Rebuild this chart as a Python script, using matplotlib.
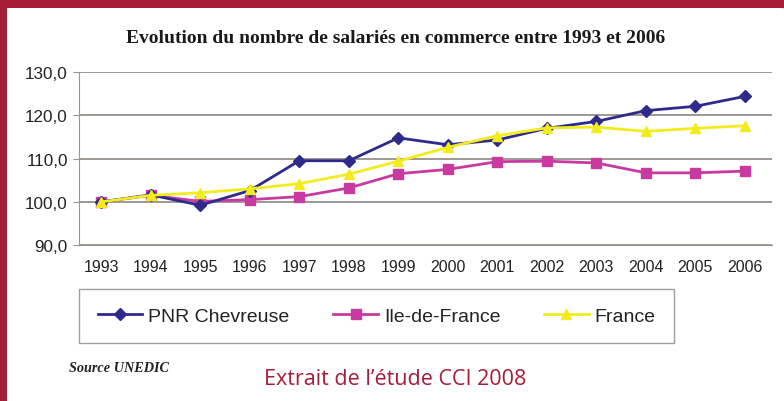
import matplotlib.pyplot as plt
from matplotlib.patches import FancyBboxPatch, Rectangle

years = ['1993', '1994', '1995', '1996', '1997', '1998', '1999',
         '2000', '2001', '2002', '2003', '2004', '2005', '2006']
pnr = [100.0, 101.6, 99.2, 102.6, 109.5, 109.5, 114.8,
       113.2, 114.3, 117.0, 118.6, 121.1, 122.1, 124.4]
idf = [100.0, 101.5, 100.1, 100.5, 101.2, 103.2, 106.5,
       107.5, 109.3, 109.4, 109.0, 106.7, 106.7, 107.1]
france = [100.0, 101.5, 102.1, 103.0, 104.2, 106.4, 109.4,
          112.6, 115.3, 117.1, 117.3, 116.3, 117.0, 117.6]
yticks = [90, 100, 110, 120, 130]

RED = '#A51D38'
C_PNR = '#2E2A8C'
C_IDF = '#C83AA0'
C_FR = '#F2EC1E'

fig = plt.figure(figsize=(7.84, 4.02), dpi=100, facecolor=RED)

# white panel with rounded top-right corner
panel = FancyBboxPatch((0.07, -0.5), 8.0, 4.02 - 0.09 + 0.5,
                       boxstyle='round,pad=0,rounding_size=0.28',
                       transform=fig.dpi_scale_trans, facecolor='white',
                       edgecolor='none', zorder=-2)
fig.patches.append(panel)
fig.patches.append(Rectangle((0.07, 2.0), 1.0, 4.02 - 0.09 - 2.0,
                             transform=fig.dpi_scale_trans, facecolor='white',
                             edgecolor='none', zorder=-2))

ax = fig.add_axes([0.1008, 0.388, 0.884, 0.430])
ax.set_zorder(1)
ax.set_facecolor('none')
x = list(range(len(years)))

ax.plot(x, pnr, color=C_PNR, lw=2, marker='D', ms=6.5, label='PNR Chevreuse', zorder=4)
ax.plot(x, idf, color=C_IDF, lw=2, marker='s', ms=6.5, label='Ile-de-France', zorder=3)
ax.plot(x, france, color=C_FR, lw=2, marker='^', ms=7.5, label='France', zorder=5)

ax.set_ylim(90, 130)
ax.set_xlim(-0.45, 13.55)
ax.set_yticks(yticks)
ax.set_yticklabels([f'{v:.1f}'.replace('.', ',') for v in yticks])
ax.set_xticks(x)
ax.set_xticklabels(years)
ax.grid(axis='y', color='#8E8682', lw=1.2, zorder=1)
for s in ['top', 'right']:
    ax.spines[s].set_visible(False)
for s in ['left', 'bottom']:
    ax.spines[s].set_color('#9A9490')
ax.tick_params(axis='y', length=4, color='#9A9490', labelsize=12.3, pad=4)
ax.tick_params(axis='x', length=0, labelsize=11.5, pad=10)
for lab in ax.get_xticklabels() + ax.get_yticklabels():
    lab.set_family('Liberation Sans')
    lab.set_color('#222222')

fig.text(0.504, 0.905, 'Evolution du nombre de salariés en commerce entre 1993 et 2006',
         ha='center', va='center', family='Liberation Serif', weight='bold',
         fontsize=14, color='#1a1a1a')

leg = fig.legend(loc='center left', bbox_to_anchor=(0.101, 0.211), ncol=3,
                 frameon=True, fancybox=False, edgecolor='#8E8682',
                 prop={'family': 'Liberation Sans', 'size': 14},
                 handlelength=2.3, columnspacing=2.25, borderpad=0.95,
                 handletextpad=0.3, borderaxespad=0)
leg.get_frame().set_linewidth(1.0)
leg.set_zorder(2)
for t in leg.get_texts():
    t.set_color('#222222')

fig.text(0.088, 0.083, 'Source UNEDIC', family='Liberation Serif', weight='bold',
         style='italic', fontsize=10.3, color='#222222', va='center')
fig.text(0.337, 0.055, "Extrait de l\u2019étude CCI 2008", family='Open Sans',
         fontsize=15.5, color=RED, va='center')

fig.savefig('out.png', dpi=100, facecolor=RED)
